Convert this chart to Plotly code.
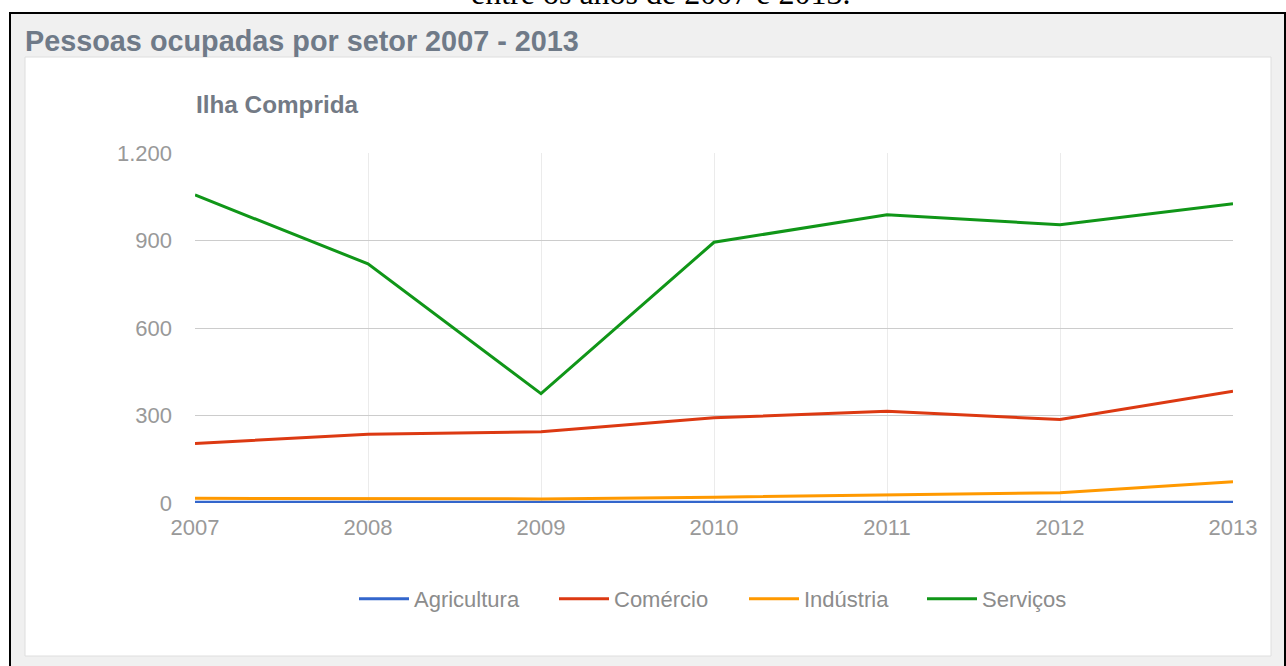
import plotly.graph_objects as go

# ---- data ----
years = [2007, 2008, 2009, 2010, 2011, 2012, 2013]
agricultura = [3, 3, 2, 2, 3, 3, 3]
comercio = [204, 236, 244, 292, 315, 286, 383]
industria = [16, 16, 14, 20, 27, 35, 73]
servicos = [1056, 820, 375, 894, 988, 954, 1026]
series_names = ["Agricultura", "Comércio", "Indústria", "Serviços"]
series_colors = ["#3366cc", "#dc3912", "#ff9900", "#109618"]
legend_widths = [135, 125, 113, 95]
y_ticks = [0, 300, 600, 900, 1200]

W, H = 1286, 666
L, R, T, B = 195, 1233, 153, 503  # plot area in pixels


def px_x(px):
    return (px - L) / (R - L)


def px_y(py):
    return (B - py) / (B - T)


fig = go.Figure()
for name, vals, col, lw in zip(series_names, [agricultura, comercio, industria, servicos],
                               series_colors, legend_widths):
    fig.add_trace(go.Scatter(x=years, y=vals, name=name, mode="lines",
                             line=dict(color=col, width=3), legendwidth=lw,
                             hoverinfo="x+y+name"))

shapes = [
    dict(type="rect", xref="paper", yref="paper", layer="below",
         x0=px_x(10), x1=px_x(1286), y0=px_y(666), y1=px_y(13),
         fillcolor="#f0f0f0", line=dict(width=0)),
    dict(type="rect", xref="paper", yref="paper", layer="below",
         x0=px_x(25), x1=px_x(1271), y0=px_y(656), y1=px_y(57),
         fillcolor="#ffffff", line=dict(color="#dedede", width=1)),
    dict(type="line", xref="paper", yref="paper", layer="above",
         x0=px_x(9), x1=px_x(1286), y0=px_y(13), y1=px_y(13),
         line=dict(color="#000000", width=2)),
    dict(type="line", xref="paper", yref="paper", layer="above",
         x0=px_x(10), x1=px_x(10), y0=px_y(13), y1=px_y(667),
         line=dict(color="#000000", width=2)),
    dict(type="line", xref="paper", yref="paper", layer="above",
         x0=px_x(1285), x1=px_x(1285), y0=px_y(13), y1=px_y(667),
         line=dict(color="#000000", width=2)),
]

annotations = [
    dict(text="entre os anos de 2007 e 2013.", xref="paper", yref="paper",
         x=px_x(660), y=px_y(-7), xanchor="center", yanchor="middle", showarrow=False,
         font=dict(family="Liberation Serif, Times New Roman, serif", size=32, color="#000000")),
    dict(text="<b>Pessoas ocupadas por setor 2007 - 2013</b>", xref="paper", yref="paper",
         x=px_x(23), y=px_y(41), xanchor="left", yanchor="middle", showarrow=False,
         font=dict(family="Liberation Sans, Arial, sans-serif", size=28.8, color="#6f7a88")),
    dict(text="<b>Ilha Comprida</b>", xref="paper", yref="paper",
         x=px_x(194), y=px_y(104), xanchor="left", yanchor="middle", showarrow=False,
         font=dict(family="Liberation Sans, Arial, sans-serif", size=24.3, color="#737a85")),
]

fig.update_layout(
    width=W, height=H,
    margin=dict(l=L, r=W - R, t=T, b=H - B, pad=0),
    paper_bgcolor="#ffffff",
    plot_bgcolor="rgba(0,0,0,0)",
    separators=",.",
    font=dict(family="Liberation Sans, Arial, sans-serif", color="#999999", size=22),
    shapes=shapes,
    annotations=annotations,
    showlegend=True,
    legend=dict(orientation="h", x=px_x(354), y=px_y(599), xanchor="left", yanchor="middle",
                font=dict(size=22, color="#8c8c8c"), bgcolor="rgba(0,0,0,0)",
                itemwidth=50, tracegroupgap=0),
    xaxis=dict(range=[years[0], years[-1]], tickvals=years, ticktext=[str(y) for y in years],
               showgrid=True, gridcolor="#ebebeb", gridwidth=1, zeroline=False,
               showline=False, ticks="", tickfont=dict(size=22, color="#999999"),
               ticklabelstandoff=9, fixedrange=True),
    yaxis=dict(range=[0, 1200], tickvals=y_ticks, tickformat=",d",
               showgrid=True, gridcolor="#cccccc", gridwidth=1, zeroline=False,
               showline=False, ticks="", tickfont=dict(size=22, color="#999999"),
               ticklabelstandoff=22, fixedrange=True),
)

fig.write_html("out.html", config={"displayModeBar": False},
               post_script="document.body.style.margin='0';document.body.style.padding='0';")
